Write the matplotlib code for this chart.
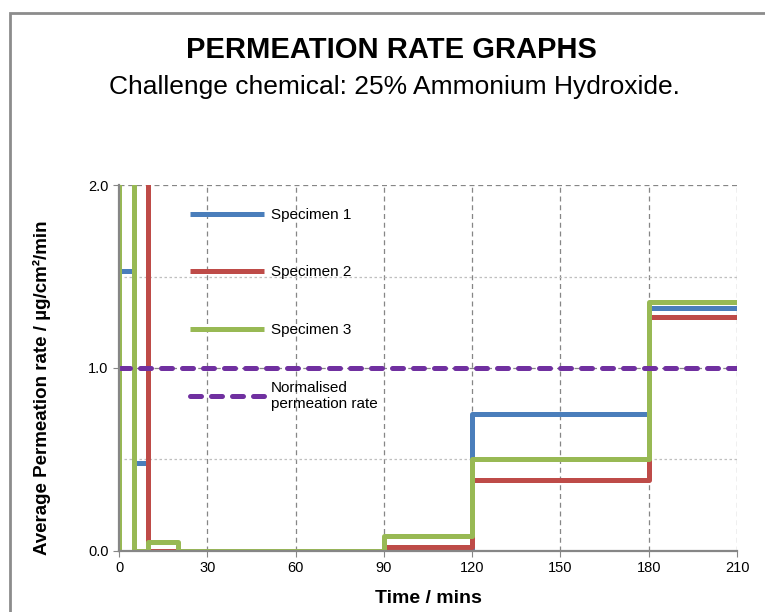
import numpy as np
import matplotlib
matplotlib.use('Agg')
import matplotlib.pyplot as plt
from matplotlib.patches import Rectangle

plt.rcParams['font.family'] = ['Liberation Sans', 'DejaVu Sans']

# Interval edges (minutes) and average permeation rate in each interval
edges = [0, 5, 10, 20, 30, 60, 90, 120, 180, 210]
specimen1 = [1.53, 0.48, 0.0, 0.0, 0.0, 0.0, 0.0, 0.75, 1.33]
specimen2 = [9.6, 3.2, 0.0, 0.0, 0.0, 0.0, 0.02, 0.39, 1.28]
specimen3 = [8.8, 0.0, 0.05, 0.0, 0.0, 0.0, 0.08, 0.50, 1.36]
norm_rate = 1.0

labels = ['Specimen 1', 'Specimen 2', 'Specimen 3']
colors = ['#4A7EBB', '#BE4B48', '#98B954']
x_ticks = [0, 30, 60, 90, 120, 150, 180, 210]
y_ticks = [0.0, 1.0, 2.0]

fig = plt.figure(figsize=(7.65, 6.12), dpi=100)
ax = fig.add_axes([0.1556, 0.0997, 0.8078, 0.598])

# outer chart border
fig.patches.append(Rectangle((9.5 / 765, -0.2), 1.2, 1.2 - 13 / 612,
                             transform=fig.transFigure, fill=False,
                             edgecolor='#8c8c8c', linewidth=2))

for vals, lab, col in zip([specimen1, specimen2, specimen3], labels, colors):
    x = np.r_[edges[0], edges]
    y = np.r_[0.0, vals, vals[-1]]
    ax.step(x, y, where='post', color=col, lw=3.6, label=lab,
            solid_joinstyle='round', solid_capstyle='butt', zorder=2)

ax.axhline(norm_rate, color='#7030A0', lw=3.6, dashes=(2.2, 2.0),
           dash_capstyle='round', label='Normalised\npermeation rate', zorder=3)

ax.set_xlim(0, 210)
ax.set_ylim(0, 2.0)
ax.set_xticks(x_ticks)
ax.set_yticks(y_ticks)
ax.set_yticklabels([f'{v:.1f}' for v in y_ticks])
ax.set_yticks([0.5, 1.5], minor=True)
ax.tick_params(axis='both', labelsize=10.5, color='#868686', length=4, direction='out')
ax.tick_params(axis='y', which='minor', length=0)

ax.grid(True, which='major', color='#868686', linestyle=(0, (4, 3)), lw=0.9)
ax.grid(True, which='minor', axis='y', color='#bfbfbf', linestyle=(0, (2, 2)), lw=0.9)
ax.set_axisbelow(True)

for s in ['top', 'right']:
    ax.spines[s].set_visible(False)
for s in ['left', 'bottom']:
    ax.spines[s].set_color('#868686')
    ax.spines[s].set_linewidth(1.6)
    ax.spines[s].set_zorder(4)

ax.set_xlabel('Time / mins', fontsize=14, fontweight='bold')
ax.xaxis.set_label_coords(0.5, -0.106)
ax.set_ylabel('Average Permeation rate / µg/cm²/min', fontsize=13.5,
              fontweight='bold')
ax.yaxis.set_label_coords(-0.11, 0.447)

leg = ax.legend(loc='upper left', bbox_to_anchor=(0.092, 0.975), frameon=False,
                fontsize=11, handlelength=4.9, handletextpad=0.4,
                labelspacing=2.85)

fig.text(0.512, 0.918, 'PERMEATION RATE GRAPHS', ha='center', va='center',
         fontsize=21, fontweight='bold')
fig.text(0.516, 0.858, 'Challenge chemical: 25% Ammonium Hydroxide.',
         ha='center', va='center', fontsize=19)

fig.savefig('out.png', dpi=100)
